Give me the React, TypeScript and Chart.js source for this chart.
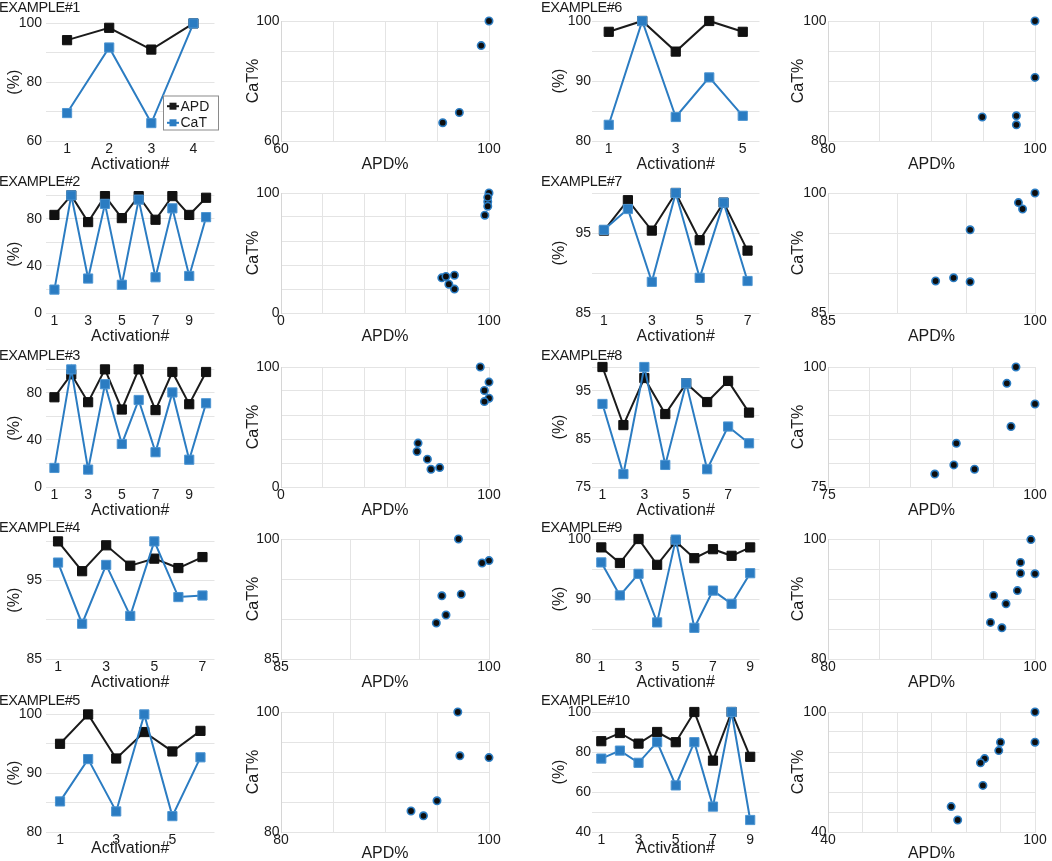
import React, { useEffect, useRef } from "react";
import { Chart, registerables } from "chart.js";

Chart.register(...registerables);

const FONT = "'Liberation Sans', Arial, Helvetica, sans-serif";
const INK = "#1b1b1b";
const BLUE = "#2b7cc2";
const GRID = "#e4e4e4";

Chart.defaults.font.family = FONT;
Chart.defaults.color = INK;

// values (APD and CaT in %, one entry per activation)
const apd1 = [94.3, 98.5, 91.1, 100];
const cat1 = [69.5, 91.8, 66.1, 100];
const apd2 = [83.4, 100, 77.3, 99.4, 80.7, 99.4, 79.3, 99.4, 83.4, 98];
const cat2 = [19.9, 100, 29.3, 92.8, 24, 96.4, 30.4, 89, 31.5, 81.5];
const apd3 = [76.3, 95.8, 72.1, 100, 65.9, 100, 65.4, 97.8, 70.4, 97.8];
const cat3 = [16.2, 100, 14.8, 87.4, 36.6, 74, 29.6, 80.4, 23.2, 71.2];
const apd4 = [100, 96.2, 99.5, 96.9, 97.8, 96.6, 98.0];
const cat4 = [97.3, 89.5, 97.0, 90.5, 100, 92.9, 93.1];
const apd5 = [95.0, 100, 92.5, 97.0, 93.7, 97.2];
const cat5 = [85.2, 92.4, 83.5, 100, 82.7, 92.7];
const apd6 = [98.2, 100, 94.9, 100, 98.2];
const cat6 = [82.7, 100, 84.0, 90.6, 84.2];
const apd7 = [95.3, 99.1, 95.3, 100, 94.1, 98.8, 92.8];
const cat7 = [95.4, 98.0, 88.9, 100, 89.4, 98.8, 89.0];
const apd8 = [100, 87.9, 97.7, 90.2, 96.6, 92.7, 97.1, 90.5];
const cat8 = [92.3, 77.7, 100, 79.6, 96.6, 78.7, 87.6, 84.1];
const apd9 = [98.6, 96.0, 100, 95.7, 99.6, 96.8, 98.3, 97.2, 98.6];
const cat9 = [96.1, 90.6, 94.2, 86.1, 99.9, 85.2, 91.4, 89.2, 94.3];
const apd10 = [85.4, 89.5, 84.2, 90.0, 84.9, 100, 75.7, 100, 77.6];
const cat10 = [76.7, 80.7, 74.6, 84.9, 63.3, 84.9, 52.7, 100, 46.0];

const exampleNames = [
  "EXAMPLE#1", "EXAMPLE#2", "EXAMPLE#3", "EXAMPLE#4", "EXAMPLE#5",
  "EXAMPLE#6", "EXAMPLE#7", "EXAMPLE#8", "EXAMPLE#9", "EXAMPLE#10",
];
const apdSeries = [apd1, apd2, apd3, apd4, apd5, apd6, apd7, apd8, apd9, apd10];
const catSeries = [cat1, cat2, cat3, cat4, cat5, cat6, cat7, cat8, cat9, cat10];
const axisMin = [60, 0, 0, 85, 80, 80, 85, 75, 80, 40];
const axisMax = [100, 100, 100, 100, 100, 100, 100, 100, 100, 100];
const axisStep = [10, 20, 20, 5, 5, 5, 5, 5, 5, 10];

// layout of the 5 x 4 grid
const ROW_TOP = [21, 193, 367, 539, 712];
const PLOT_H = 120;
const PAD_TOP = 10;

const rowOf = (i: number) => i % 5;
const colOf = (i: number) => (i < 5 ? 0 : 1);

// legend drawn in a box inside the first panel
const boxLegend = {
  id: "boxLegend",
  afterDatasetsDraw(chart: any) {
    const { ctx, chartArea } = chart;
    const x0 = chartArea.right - 51.5;
    const y0 = chartArea.bottom - 45.5;
    ctx.save();
    ctx.fillStyle = "#ffffff";
    ctx.fillRect(x0, y0, 55, 34);
    ctx.strokeStyle = "#8a8a8a";
    ctx.lineWidth = 1;
    ctx.strokeRect(x0 + 0.5, y0 + 0.5, 55, 34);
    ctx.font = `14px ${FONT}`;
    ctx.textBaseline = "middle";
    chart.data.datasets.forEach((ds: any, k: number) => {
      const y = y0 + 10.7 + k * 16.6;
      ctx.strokeStyle = ds.borderColor;
      ctx.lineWidth = 2;
      ctx.beginPath();
      ctx.moveTo(x0 + 4, y);
      ctx.lineTo(x0 + 16, y);
      ctx.stroke();
      ctx.fillStyle = ds.borderColor;
      ctx.fillRect(x0 + 6.5, y - 3.5, 7, 7);
      ctx.fillStyle = INK;
      ctx.fillText(ds.label, x0 + 17.5, y + 0.5);
    });
    ctx.restore();
  },
};

function LinePanel({ idx }: { idx: number }) {
  const ref = useRef<HTMLCanvasElement>(null!);
  const col = colOf(idx);
  const row = rowOf(idx);
  const xH = row === 4 ? 27 : 34;
  const left = col === 0 ? 0 : 545;
  const width = 222;
  const height = PAD_TOP + PLOT_H + xH;

  useEffect(() => {
    const apd = apdSeries[idx];
    const cat = catSeries[idx];
    const labels = apd.map((_, k) => String(k + 1));
    const showAll = idx === 0;

    const chart = new Chart(ref.current, {
      type: "line",
      data: {
        labels,
        datasets: [
          {
            label: "APD",
            data: apd,
            borderColor: INK,
            backgroundColor: INK,
            borderWidth: 2,
            pointStyle: "rect",
            pointRadius: 6.5,
            pointBorderWidth: 1,
            pointBackgroundColor: "#111111",
            pointBorderColor: "#111111",
            order: 2,
            clip: false,
          },
          {
            label: "CaT",
            data: cat,
            borderColor: BLUE,
            backgroundColor: BLUE,
            borderWidth: 2,
            pointStyle: "rect",
            pointRadius: 6.5,
            pointBorderWidth: 1,
            pointBackgroundColor: BLUE,
            pointBorderColor: "#4d95d2",
            order: 1,
            clip: false,
          },
        ],
      },
      options: {
        animation: false,
        responsive: false,
        layout: { padding: { top: PAD_TOP, right: 3, bottom: 0, left: 0 } },
        plugins: { legend: { display: false }, tooltip: { enabled: false } },
        scales: {
          x: {
            type: "category",
            offset: true,
            grid: { display: false, drawTicks: false, tickLength: 0 },
            border: { display: false },
            ticks: {
              padding: 0,
              autoSkip: false,
              maxRotation: 0,
              font: { size: 14 },
              color: INK,
              callback: (_v: any, i: number) => (showAll || i % 2 === 0 ? labels[i] : ""),
            },
            title: {
              display: true,
              text: "Activation#",
              font: { size: 16 },
              color: INK,
              padding: { top: 0, bottom: 1 },
            },
            afterFit: (s: any) => {
              s.height = xH;
            },
          },
          y: {
            min: axisMin[idx],
            max: axisMax[idx],
            grid: { color: GRID, drawTicks: false },
            border: { display: false },
            ticks: {
              stepSize: axisStep[idx],
              autoSkip: false,
              padding: col === 0 ? 4 : 1,
              font: { size: 14 },
              color: INK,
              callback: (v: any, i: number) => (i % 2 === 0 ? String(v) : ""),
            },
            title: {
              display: true,
              text: "(%)",
              font: { size: 16 },
              color: INK,
              padding: { top: 5, bottom: 0 },
            },
            afterFit: (s: any) => {
              s.width = col === 0 ? 46 : 47;
            },
          },
        },
      },
      plugins: idx === 0 ? [boxLegend] : [],
    } as any);

    return () => {
      chart.destroy();
    };
  }, [idx]);

  return (
    <canvas
      ref={ref}
      width={width}
      height={height}
      style={{ position: "absolute", left, top: ROW_TOP[row] - PAD_TOP }}
    />
  );
}

function ScatterPanel({ idx }: { idx: number }) {
  const ref = useRef<HTMLCanvasElement>(null!);
  const col = colOf(idx);
  const row = rowOf(idx);
  const xH = row === 4 ? 31 : 34;
  const left = col === 0 ? 240 : 785;
  const width = 263;
  const height = PAD_TOP + PLOT_H + xH;

  useEffect(() => {
    const apd = apdSeries[idx];
    const cat = catSeries[idx];
    const points = apd.map((x, k) => ({ x, y: cat[k] }));
    const ends = (v: any, i: number, ticks: any[]) =>
      i === 0 || i === ticks.length - 1 ? String(v) : "";

    const chart = new Chart(ref.current, {
      type: "scatter",
      data: {
        datasets: [
          {
            label: "CaT% vs APD%",
            data: points,
            backgroundColor: "#0e0e0e",
            borderColor: BLUE,
            pointRadius: 3.7,
            pointBorderWidth: 1.6,
            clip: false,
          },
        ],
      },
      options: {
        animation: false,
        responsive: false,
        layout: { padding: { top: PAD_TOP, right: col === 0 ? 14 : 13, bottom: 0, left: 0 } },
        plugins: { legend: { display: false }, tooltip: { enabled: false } },
        scales: {
          x: {
            type: "linear",
            min: axisMin[idx],
            max: axisMax[idx],
            grid: { color: GRID, drawTicks: false },
            border: { color: GRID },
            ticks: {
              stepSize: axisStep[idx],
              autoSkip: false,
              maxRotation: 0,
              padding: 0,
              font: { size: 14 },
              color: INK,
              callback: ends,
            },
            title: {
              display: true,
              text: "APD%",
              font: { size: 16 },
              color: INK,
              padding: { top: 0, bottom: row === 4 ? 0 : 1 },
            },
            afterFit: (s: any) => {
              s.height = xH;
            },
          },
          y: {
            min: axisMin[idx],
            max: axisMax[idx],
            grid: { color: GRID, drawTicks: false },
            border: { color: "#d6d6d6" },
            ticks: {
              stepSize: axisStep[idx],
              autoSkip: false,
              padding: 1.5,
              font: { size: 14 },
              color: INK,
              callback: ends,
            },
            title: {
              display: true,
              text: "CaT%",
              font: { size: 16 },
              color: INK,
              padding: { top: 4, bottom: 0 },
            },
            afterFit: (s: any) => {
              s.width = col === 0 ? 41 : 43;
            },
          },
        },
      },
    } as any);

    return () => {
      chart.destroy();
    };
  }, [idx]);

  return (
    <canvas
      ref={ref}
      width={width}
      height={height}
      style={{ position: "absolute", left, top: ROW_TOP[row] - PAD_TOP }}
    />
  );
}

export default function App() {
  return (
    <div
      style={{
        position: "absolute",
        left: 0,
        top: 0,
        width: 1052,
        height: 861,
        overflow: "hidden",
        background: "#ffffff",
        fontFamily: FONT,
      }}
    >
      {exampleNames.map((name, i) => (
        <React.Fragment key={name}>
          <LinePanel idx={i} />
          <ScatterPanel idx={i} />
        </React.Fragment>
      ))}
      {exampleNames.map((name, i) => {
        const baseline = i % 5 === 0 ? 12.5 : ROW_TOP[rowOf(i)] - 6.5;
        return (
          <div
            key={"t" + name}
            style={{
              position: "absolute",
              left: colOf(i) === 0 ? -1 : 541,
              top: baseline - 12.3,
              fontSize: 14.5,
              lineHeight: "14.5px",
              letterSpacing: "-0.4px",
              color: INK,
              whiteSpace: "nowrap",
            }}
          >
            {name}
          </div>
        );
      })}
    </div>
  );
}
